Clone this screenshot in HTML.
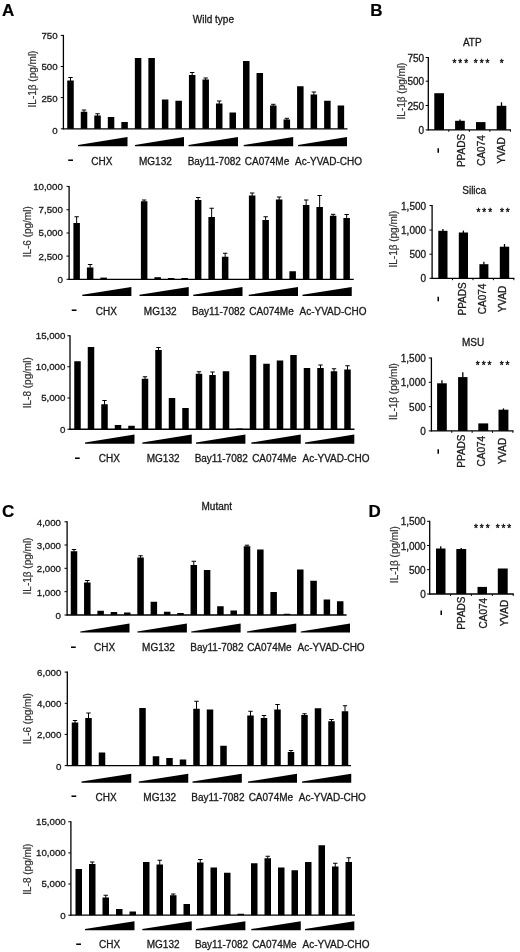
<!DOCTYPE html>
<html lang="en"><head><meta charset="utf-8"><title>Figure</title>
<style>html,body{margin:0;padding:0;background:#fff}svg{display:block;filter:blur(0.45px)}text{font-family:"Liberation Sans", Arial, Helvetica, sans-serif}</style>
</head><body>
<svg width="520" height="952" viewBox="0 0 520 952">
<rect width="520" height="952" fill="#fff"/>
<text x="1.90" y="15.60" font-size="17" text-anchor="start" font-weight="bold" fill="#000" stroke="#000" stroke-width="0.2">A</text>
<text x="370.30" y="15.70" font-size="17" text-anchor="start" font-weight="bold" fill="#000" stroke="#000" stroke-width="0.2">B</text>
<text x="2.00" y="517.00" font-size="17" text-anchor="start" font-weight="bold" fill="#000" stroke="#000" stroke-width="0.2">C</text>
<text x="368.40" y="517.00" font-size="17" text-anchor="start" font-weight="bold" fill="#000" stroke="#000" stroke-width="0.2">D</text>
<text x="213.40" y="23.00" font-size="10" text-anchor="middle" font-weight="normal" fill="#1a1a1a" stroke="#1a1a1a" stroke-width="0.3">Wild type</text>
<text x="216.80" y="509.50" font-size="10" text-anchor="middle" font-weight="normal" fill="#1a1a1a" stroke="#1a1a1a" stroke-width="0.3">Mutant</text>
<line x1="63.40" y1="34.90" x2="63.40" y2="129.30" stroke="#000" stroke-width="1.3"/>
<line x1="62.90" y1="128.80" x2="347.50" y2="128.80" stroke="#000" stroke-width="1.3"/>
<line x1="60.80" y1="35.40" x2="63.40" y2="35.40" stroke="#000" stroke-width="1.0"/>
<text x="57.60" y="38.87" font-size="9.7" text-anchor="end" font-weight="normal" fill="#1a1a1a" stroke="#1a1a1a" stroke-width="0.3">750</text>
<line x1="60.80" y1="66.50" x2="63.40" y2="66.50" stroke="#000" stroke-width="1.0"/>
<text x="57.60" y="70.42" font-size="9.7" text-anchor="end" font-weight="normal" fill="#1a1a1a" stroke="#1a1a1a" stroke-width="0.3">500</text>
<line x1="60.80" y1="97.60" x2="63.40" y2="97.60" stroke="#000" stroke-width="1.0"/>
<text x="57.60" y="101.97" font-size="9.7" text-anchor="end" font-weight="normal" fill="#1a1a1a" stroke="#1a1a1a" stroke-width="0.3">250</text>
<line x1="60.80" y1="128.80" x2="63.40" y2="128.80" stroke="#000" stroke-width="1.0"/>
<text x="57.60" y="133.62" font-size="9.7" text-anchor="end" font-weight="normal" fill="#1a1a1a" stroke="#1a1a1a" stroke-width="0.3">0</text>
<text x="35.90" y="79.00" font-size="10" text-anchor="middle" font-weight="normal" fill="#333" stroke="#333" stroke-width="0.2" transform="rotate(-90 35.90 79.00)">IL-1β (pg/ml)</text>
<rect x="67.25" y="80.50" width="6.50" height="48.30" fill="#000"/>
<line x1="70.50" y1="77.50" x2="70.50" y2="81.00" stroke="#000" stroke-width="1.0"/>
<line x1="68.30" y1="77.50" x2="72.70" y2="77.50" stroke="#000" stroke-width="1.0"/>
<rect x="80.77" y="111.75" width="6.50" height="17.05" fill="#000"/>
<line x1="84.02" y1="110.00" x2="84.02" y2="112.25" stroke="#000" stroke-width="1.0"/>
<line x1="81.82" y1="110.00" x2="86.22" y2="110.00" stroke="#000" stroke-width="1.0"/>
<rect x="94.29" y="115.50" width="6.50" height="13.30" fill="#000"/>
<line x1="97.54" y1="113.75" x2="97.54" y2="116.00" stroke="#000" stroke-width="1.0"/>
<line x1="95.34" y1="113.75" x2="99.74" y2="113.75" stroke="#000" stroke-width="1.0"/>
<rect x="107.81" y="117.00" width="6.50" height="11.80" fill="#000"/>
<rect x="121.33" y="122.00" width="6.50" height="6.80" fill="#000"/>
<rect x="134.85" y="58.00" width="6.50" height="70.80" fill="#000"/>
<rect x="148.37" y="58.00" width="6.50" height="70.80" fill="#000"/>
<rect x="161.89" y="99.50" width="6.50" height="29.30" fill="#000"/>
<rect x="175.41" y="100.75" width="6.50" height="28.05" fill="#000"/>
<rect x="188.93" y="75.00" width="6.50" height="53.80" fill="#000"/>
<line x1="192.18" y1="72.50" x2="192.18" y2="75.50" stroke="#000" stroke-width="1.0"/>
<line x1="189.98" y1="72.50" x2="194.38" y2="72.50" stroke="#000" stroke-width="1.0"/>
<rect x="202.45" y="79.50" width="6.50" height="49.30" fill="#000"/>
<line x1="205.70" y1="78.00" x2="205.70" y2="80.00" stroke="#000" stroke-width="1.0"/>
<line x1="203.50" y1="78.00" x2="207.90" y2="78.00" stroke="#000" stroke-width="1.0"/>
<rect x="215.97" y="103.50" width="6.50" height="25.30" fill="#000"/>
<line x1="219.22" y1="101.00" x2="219.22" y2="104.00" stroke="#000" stroke-width="1.0"/>
<line x1="217.02" y1="101.00" x2="221.42" y2="101.00" stroke="#000" stroke-width="1.0"/>
<rect x="229.49" y="112.50" width="6.50" height="16.30" fill="#000"/>
<rect x="243.01" y="61.00" width="6.50" height="67.80" fill="#000"/>
<rect x="256.53" y="73.00" width="6.50" height="55.80" fill="#000"/>
<rect x="270.05" y="105.50" width="6.50" height="23.30" fill="#000"/>
<line x1="273.30" y1="104.30" x2="273.30" y2="106.00" stroke="#000" stroke-width="1.0"/>
<line x1="271.10" y1="104.30" x2="275.50" y2="104.30" stroke="#000" stroke-width="1.0"/>
<rect x="283.57" y="119.50" width="6.50" height="9.30" fill="#000"/>
<line x1="286.82" y1="118.30" x2="286.82" y2="120.00" stroke="#000" stroke-width="1.0"/>
<line x1="284.62" y1="118.30" x2="289.02" y2="118.30" stroke="#000" stroke-width="1.0"/>
<rect x="297.09" y="86.25" width="6.50" height="42.55" fill="#000"/>
<rect x="310.61" y="94.50" width="6.50" height="34.30" fill="#000"/>
<line x1="313.86" y1="92.00" x2="313.86" y2="95.00" stroke="#000" stroke-width="1.0"/>
<line x1="311.66" y1="92.00" x2="316.06" y2="92.00" stroke="#000" stroke-width="1.0"/>
<rect x="324.13" y="100.75" width="6.50" height="28.05" fill="#000"/>
<rect x="337.65" y="105.50" width="6.50" height="23.30" fill="#000"/>
<polygon points="78.00,146.30 78.00,145.10 127.50,137.10 127.50,146.30" fill="#000"/>
<polygon points="135.00,146.30 135.00,145.10 184.00,137.10 184.00,146.30" fill="#000"/>
<polygon points="188.50,146.30 188.50,145.10 238.00,137.10 238.00,146.30" fill="#000"/>
<polygon points="243.70,146.30 243.70,145.10 293.20,137.10 293.20,146.30" fill="#000"/>
<polygon points="298.00,146.30 298.00,145.10 347.00,137.10 347.00,146.30" fill="#000"/>
<text transform="translate(70.75 164.40) scale(1.45 1)" font-size="13" font-weight="bold" text-anchor="middle" fill="#000">-</text>
<text x="101.75" y="164.60" font-size="10" text-anchor="middle" font-weight="normal" fill="#1a1a1a" stroke="#1a1a1a" stroke-width="0.3">CHX</text>
<text x="155.40" y="164.60" font-size="10" text-anchor="middle" font-weight="normal" fill="#1a1a1a" stroke="#1a1a1a" stroke-width="0.3">MG132</text>
<text x="214.25" y="164.60" font-size="10" text-anchor="middle" font-weight="normal" fill="#1a1a1a" stroke="#1a1a1a" stroke-width="0.3">Bay11-7082</text>
<text x="267.00" y="164.60" font-size="10" text-anchor="middle" font-weight="normal" fill="#1a1a1a" stroke="#1a1a1a" stroke-width="0.3">CA074Me</text>
<text x="328.50" y="164.60" font-size="10" text-anchor="middle" font-weight="normal" fill="#1a1a1a" stroke="#1a1a1a" stroke-width="0.3">Ac-YVAD-CHO</text>
<line x1="69.10" y1="185.90" x2="69.10" y2="279.80" stroke="#000" stroke-width="1.3"/>
<line x1="68.60" y1="279.30" x2="353.75" y2="279.30" stroke="#000" stroke-width="1.3"/>
<line x1="66.50" y1="186.40" x2="69.10" y2="186.40" stroke="#000" stroke-width="1.0"/>
<text x="62.80" y="189.87" font-size="9.7" text-anchor="end" font-weight="normal" fill="#1a1a1a" stroke="#1a1a1a" stroke-width="0.3">10,000</text>
<line x1="66.50" y1="209.75" x2="69.10" y2="209.75" stroke="#000" stroke-width="1.0"/>
<text x="62.80" y="213.22" font-size="9.7" text-anchor="end" font-weight="normal" fill="#1a1a1a" stroke="#1a1a1a" stroke-width="0.3">7,500</text>
<line x1="66.50" y1="233.00" x2="69.10" y2="233.00" stroke="#000" stroke-width="1.0"/>
<text x="62.80" y="236.47" font-size="9.7" text-anchor="end" font-weight="normal" fill="#1a1a1a" stroke="#1a1a1a" stroke-width="0.3">5,000</text>
<line x1="66.50" y1="256.10" x2="69.10" y2="256.10" stroke="#000" stroke-width="1.0"/>
<text x="62.80" y="259.57" font-size="9.7" text-anchor="end" font-weight="normal" fill="#1a1a1a" stroke="#1a1a1a" stroke-width="0.3">2,500</text>
<line x1="66.50" y1="279.30" x2="69.10" y2="279.30" stroke="#000" stroke-width="1.0"/>
<text x="62.80" y="282.77" font-size="9.7" text-anchor="end" font-weight="normal" fill="#1a1a1a" stroke="#1a1a1a" stroke-width="0.3">0</text>
<text x="31.10" y="231.80" font-size="10" text-anchor="middle" font-weight="normal" fill="#333" stroke="#333" stroke-width="0.2" transform="rotate(-90 31.10 231.80)">IL-6 (pg/ml)</text>
<rect x="73.40" y="223.00" width="6.50" height="56.30" fill="#000"/>
<line x1="76.65" y1="216.75" x2="76.65" y2="223.50" stroke="#000" stroke-width="1.0"/>
<line x1="74.45" y1="216.75" x2="78.85" y2="216.75" stroke="#000" stroke-width="1.0"/>
<rect x="86.90" y="267.50" width="6.50" height="11.80" fill="#000"/>
<line x1="90.15" y1="264.50" x2="90.15" y2="268.00" stroke="#000" stroke-width="1.0"/>
<line x1="87.95" y1="264.50" x2="92.35" y2="264.50" stroke="#000" stroke-width="1.0"/>
<rect x="100.40" y="277.60" width="6.50" height="1.70" fill="#000"/>
<rect x="140.90" y="201.25" width="6.50" height="78.05" fill="#000"/>
<line x1="144.15" y1="200.00" x2="144.15" y2="201.75" stroke="#000" stroke-width="1.0"/>
<line x1="141.95" y1="200.00" x2="146.35" y2="200.00" stroke="#000" stroke-width="1.0"/>
<rect x="154.40" y="277.20" width="6.50" height="2.10" fill="#000"/>
<rect x="167.90" y="278.00" width="6.50" height="1.30" fill="#000"/>
<rect x="181.40" y="278.00" width="6.50" height="1.30" fill="#000"/>
<rect x="194.90" y="200.00" width="6.50" height="79.30" fill="#000"/>
<line x1="198.15" y1="197.50" x2="198.15" y2="200.50" stroke="#000" stroke-width="1.0"/>
<line x1="195.95" y1="197.50" x2="200.35" y2="197.50" stroke="#000" stroke-width="1.0"/>
<rect x="208.40" y="217.00" width="6.50" height="62.30" fill="#000"/>
<line x1="211.65" y1="208.25" x2="211.65" y2="217.50" stroke="#000" stroke-width="1.0"/>
<line x1="209.45" y1="208.25" x2="213.85" y2="208.25" stroke="#000" stroke-width="1.0"/>
<rect x="221.90" y="256.75" width="6.50" height="22.55" fill="#000"/>
<line x1="225.15" y1="253.25" x2="225.15" y2="257.25" stroke="#000" stroke-width="1.0"/>
<line x1="222.95" y1="253.25" x2="227.35" y2="253.25" stroke="#000" stroke-width="1.0"/>
<rect x="248.90" y="195.50" width="6.50" height="83.80" fill="#000"/>
<line x1="252.15" y1="193.00" x2="252.15" y2="196.00" stroke="#000" stroke-width="1.0"/>
<line x1="249.95" y1="193.00" x2="254.35" y2="193.00" stroke="#000" stroke-width="1.0"/>
<rect x="262.40" y="220.00" width="6.50" height="59.30" fill="#000"/>
<line x1="265.65" y1="216.75" x2="265.65" y2="220.50" stroke="#000" stroke-width="1.0"/>
<line x1="263.45" y1="216.75" x2="267.85" y2="216.75" stroke="#000" stroke-width="1.0"/>
<rect x="275.90" y="199.50" width="6.50" height="79.80" fill="#000"/>
<line x1="279.15" y1="197.00" x2="279.15" y2="200.00" stroke="#000" stroke-width="1.0"/>
<line x1="276.95" y1="197.00" x2="281.35" y2="197.00" stroke="#000" stroke-width="1.0"/>
<rect x="289.40" y="271.25" width="6.50" height="8.05" fill="#000"/>
<rect x="302.90" y="205.00" width="6.50" height="74.30" fill="#000"/>
<line x1="306.15" y1="200.00" x2="306.15" y2="205.50" stroke="#000" stroke-width="1.0"/>
<line x1="303.95" y1="200.00" x2="308.35" y2="200.00" stroke="#000" stroke-width="1.0"/>
<rect x="316.40" y="207.00" width="6.50" height="72.30" fill="#000"/>
<line x1="319.65" y1="195.50" x2="319.65" y2="207.50" stroke="#000" stroke-width="1.0"/>
<line x1="317.45" y1="195.50" x2="321.85" y2="195.50" stroke="#000" stroke-width="1.0"/>
<rect x="329.90" y="215.75" width="6.50" height="63.55" fill="#000"/>
<line x1="333.15" y1="214.30" x2="333.15" y2="216.25" stroke="#000" stroke-width="1.0"/>
<line x1="330.95" y1="214.30" x2="335.35" y2="214.30" stroke="#000" stroke-width="1.0"/>
<rect x="343.40" y="218.00" width="6.50" height="61.30" fill="#000"/>
<line x1="346.65" y1="214.50" x2="346.65" y2="218.50" stroke="#000" stroke-width="1.0"/>
<line x1="344.45" y1="214.50" x2="348.85" y2="214.50" stroke="#000" stroke-width="1.0"/>
<polygon points="82.30,296.05 82.30,294.85 131.40,287.00 131.40,296.05" fill="#000"/>
<polygon points="139.50,296.05 139.50,294.85 188.75,287.00 188.75,296.05" fill="#000"/>
<polygon points="193.25,296.05 193.25,294.85 242.50,287.00 242.50,296.05" fill="#000"/>
<polygon points="248.75,296.05 248.75,294.85 298.00,287.00 298.00,296.05" fill="#000"/>
<polygon points="302.50,296.05 302.50,294.85 351.75,287.00 351.75,296.05" fill="#000"/>
<text transform="translate(74.25 313.90) scale(1.45 1)" font-size="13" font-weight="bold" text-anchor="middle" fill="#000">-</text>
<text x="106.25" y="314.55" font-size="10" text-anchor="middle" font-weight="normal" fill="#1a1a1a" stroke="#1a1a1a" stroke-width="0.3">CHX</text>
<text x="160.25" y="314.55" font-size="10" text-anchor="middle" font-weight="normal" fill="#1a1a1a" stroke="#1a1a1a" stroke-width="0.3">MG132</text>
<text x="218.50" y="314.55" font-size="10" text-anchor="middle" font-weight="normal" fill="#1a1a1a" stroke="#1a1a1a" stroke-width="0.3">Bay11-7082</text>
<text x="271.50" y="314.55" font-size="10" text-anchor="middle" font-weight="normal" fill="#1a1a1a" stroke="#1a1a1a" stroke-width="0.3">CA074Me</text>
<text x="333.00" y="314.55" font-size="10" text-anchor="middle" font-weight="normal" fill="#1a1a1a" stroke="#1a1a1a" stroke-width="0.3">Ac-YVAD-CHO</text>
<line x1="70.00" y1="335.25" x2="70.00" y2="429.75" stroke="#000" stroke-width="1.3"/>
<line x1="69.50" y1="429.25" x2="354.50" y2="429.25" stroke="#000" stroke-width="1.3"/>
<line x1="67.40" y1="335.75" x2="70.00" y2="335.75" stroke="#000" stroke-width="1.0"/>
<text x="65.40" y="339.22" font-size="9.7" text-anchor="end" font-weight="normal" fill="#1a1a1a" stroke="#1a1a1a" stroke-width="0.3">15,000</text>
<line x1="67.40" y1="366.75" x2="70.00" y2="366.75" stroke="#000" stroke-width="1.0"/>
<text x="65.40" y="370.22" font-size="9.7" text-anchor="end" font-weight="normal" fill="#1a1a1a" stroke="#1a1a1a" stroke-width="0.3">10,000</text>
<line x1="67.40" y1="398.00" x2="70.00" y2="398.00" stroke="#000" stroke-width="1.0"/>
<text x="65.40" y="401.47" font-size="9.7" text-anchor="end" font-weight="normal" fill="#1a1a1a" stroke="#1a1a1a" stroke-width="0.3">5,000</text>
<line x1="67.40" y1="429.25" x2="70.00" y2="429.25" stroke="#000" stroke-width="1.0"/>
<text x="65.40" y="432.72" font-size="9.7" text-anchor="end" font-weight="normal" fill="#1a1a1a" stroke="#1a1a1a" stroke-width="0.3">0</text>
<text x="31.10" y="382.70" font-size="10" text-anchor="middle" font-weight="normal" fill="#333" stroke="#333" stroke-width="0.2" transform="rotate(-90 31.10 382.70)">IL-8 (pg/ml)</text>
<rect x="74.25" y="361.25" width="6.50" height="68.00" fill="#000"/>
<rect x="87.75" y="347.00" width="6.50" height="82.25" fill="#000"/>
<rect x="101.25" y="404.25" width="6.50" height="25.00" fill="#000"/>
<line x1="104.50" y1="400.50" x2="104.50" y2="404.75" stroke="#000" stroke-width="1.0"/>
<line x1="102.30" y1="400.50" x2="106.70" y2="400.50" stroke="#000" stroke-width="1.0"/>
<rect x="114.75" y="425.00" width="6.50" height="4.25" fill="#000"/>
<rect x="128.25" y="425.75" width="6.50" height="3.50" fill="#000"/>
<rect x="141.75" y="378.75" width="6.50" height="50.50" fill="#000"/>
<line x1="145.00" y1="376.75" x2="145.00" y2="379.25" stroke="#000" stroke-width="1.0"/>
<line x1="142.80" y1="376.75" x2="147.20" y2="376.75" stroke="#000" stroke-width="1.0"/>
<rect x="155.25" y="350.00" width="6.50" height="79.25" fill="#000"/>
<line x1="158.50" y1="347.50" x2="158.50" y2="350.50" stroke="#000" stroke-width="1.0"/>
<line x1="156.30" y1="347.50" x2="160.70" y2="347.50" stroke="#000" stroke-width="1.0"/>
<rect x="168.75" y="398.00" width="6.50" height="31.25" fill="#000"/>
<rect x="182.25" y="408.00" width="6.50" height="21.25" fill="#000"/>
<rect x="195.75" y="373.75" width="6.50" height="55.50" fill="#000"/>
<line x1="199.00" y1="371.75" x2="199.00" y2="374.25" stroke="#000" stroke-width="1.0"/>
<line x1="196.80" y1="371.75" x2="201.20" y2="371.75" stroke="#000" stroke-width="1.0"/>
<rect x="209.25" y="375.00" width="6.50" height="54.25" fill="#000"/>
<line x1="212.50" y1="372.00" x2="212.50" y2="375.50" stroke="#000" stroke-width="1.0"/>
<line x1="210.30" y1="372.00" x2="214.70" y2="372.00" stroke="#000" stroke-width="1.0"/>
<rect x="222.75" y="371.25" width="6.50" height="58.00" fill="#000"/>
<rect x="236.25" y="428.50" width="6.50" height="0.75" fill="#000"/>
<rect x="249.75" y="355.00" width="6.50" height="74.25" fill="#000"/>
<rect x="263.25" y="363.75" width="6.50" height="65.50" fill="#000"/>
<rect x="276.75" y="360.50" width="6.50" height="68.75" fill="#000"/>
<rect x="290.25" y="355.00" width="6.50" height="74.25" fill="#000"/>
<rect x="303.75" y="368.00" width="6.50" height="61.25" fill="#000"/>
<rect x="317.25" y="368.00" width="6.50" height="61.25" fill="#000"/>
<line x1="320.50" y1="365.00" x2="320.50" y2="368.50" stroke="#000" stroke-width="1.0"/>
<line x1="318.30" y1="365.00" x2="322.70" y2="365.00" stroke="#000" stroke-width="1.0"/>
<rect x="330.75" y="371.25" width="6.50" height="58.00" fill="#000"/>
<line x1="334.00" y1="368.75" x2="334.00" y2="371.75" stroke="#000" stroke-width="1.0"/>
<line x1="331.80" y1="368.75" x2="336.20" y2="368.75" stroke="#000" stroke-width="1.0"/>
<rect x="344.25" y="369.50" width="6.50" height="59.75" fill="#000"/>
<line x1="347.50" y1="365.75" x2="347.50" y2="370.00" stroke="#000" stroke-width="1.0"/>
<line x1="345.30" y1="365.75" x2="349.70" y2="365.75" stroke="#000" stroke-width="1.0"/>
<polygon points="85.00,443.70 85.00,442.50 134.50,434.40 134.50,443.70" fill="#000"/>
<polygon points="142.30,443.70 142.30,442.50 191.75,434.40 191.75,443.70" fill="#000"/>
<polygon points="196.00,443.70 196.00,442.50 245.40,434.40 245.40,443.70" fill="#000"/>
<polygon points="251.25,443.70 251.25,442.50 300.75,434.40 300.75,443.70" fill="#000"/>
<polygon points="305.00,443.70 305.00,442.50 354.30,434.40 354.30,443.70" fill="#000"/>
<text transform="translate(77.50 461.65) scale(1.45 1)" font-size="13" font-weight="bold" text-anchor="middle" fill="#000">-</text>
<text x="109.38" y="461.75" font-size="10" text-anchor="middle" font-weight="normal" fill="#1a1a1a" stroke="#1a1a1a" stroke-width="0.3">CHX</text>
<text x="163.12" y="461.75" font-size="10" text-anchor="middle" font-weight="normal" fill="#1a1a1a" stroke="#1a1a1a" stroke-width="0.3">MG132</text>
<text x="221.25" y="461.75" font-size="10" text-anchor="middle" font-weight="normal" fill="#1a1a1a" stroke="#1a1a1a" stroke-width="0.3">Bay11-7082</text>
<text x="274.38" y="461.75" font-size="10" text-anchor="middle" font-weight="normal" fill="#1a1a1a" stroke="#1a1a1a" stroke-width="0.3">CA074Me</text>
<text x="336.00" y="461.75" font-size="10" text-anchor="middle" font-weight="normal" fill="#1a1a1a" stroke="#1a1a1a" stroke-width="0.3">Ac-YVAD-CHO</text>
<line x1="67.10" y1="521.30" x2="67.10" y2="615.50" stroke="#000" stroke-width="1.3"/>
<line x1="66.60" y1="615.00" x2="346.60" y2="615.00" stroke="#000" stroke-width="1.3"/>
<line x1="64.50" y1="521.80" x2="67.10" y2="521.80" stroke="#000" stroke-width="1.0"/>
<text x="61.00" y="525.87" font-size="9.7" text-anchor="end" font-weight="normal" fill="#1a1a1a" stroke="#1a1a1a" stroke-width="0.3">4,000</text>
<line x1="64.50" y1="545.00" x2="67.10" y2="545.00" stroke="#000" stroke-width="1.0"/>
<text x="61.00" y="549.07" font-size="9.7" text-anchor="end" font-weight="normal" fill="#1a1a1a" stroke="#1a1a1a" stroke-width="0.3">3,000</text>
<line x1="64.50" y1="568.30" x2="67.10" y2="568.30" stroke="#000" stroke-width="1.0"/>
<text x="61.00" y="572.37" font-size="9.7" text-anchor="end" font-weight="normal" fill="#1a1a1a" stroke="#1a1a1a" stroke-width="0.3">2,000</text>
<line x1="64.50" y1="591.70" x2="67.10" y2="591.70" stroke="#000" stroke-width="1.0"/>
<text x="61.00" y="595.77" font-size="9.7" text-anchor="end" font-weight="normal" fill="#1a1a1a" stroke="#1a1a1a" stroke-width="0.3">1,000</text>
<line x1="64.50" y1="615.00" x2="67.10" y2="615.00" stroke="#000" stroke-width="1.0"/>
<text x="61.00" y="619.07" font-size="9.7" text-anchor="end" font-weight="normal" fill="#1a1a1a" stroke="#1a1a1a" stroke-width="0.3">0</text>
<text x="31.10" y="566.00" font-size="10" text-anchor="middle" font-weight="normal" fill="#333" stroke="#333" stroke-width="0.2" transform="rotate(-90 31.10 566.00)">IL-1β (pg/ml)</text>
<rect x="70.75" y="551.25" width="6.50" height="63.75" fill="#000"/>
<line x1="74.00" y1="549.50" x2="74.00" y2="551.75" stroke="#000" stroke-width="1.0"/>
<line x1="71.80" y1="549.50" x2="76.20" y2="549.50" stroke="#000" stroke-width="1.0"/>
<rect x="84.06" y="582.50" width="6.50" height="32.50" fill="#000"/>
<line x1="87.31" y1="580.50" x2="87.31" y2="583.00" stroke="#000" stroke-width="1.0"/>
<line x1="85.11" y1="580.50" x2="89.51" y2="580.50" stroke="#000" stroke-width="1.0"/>
<rect x="97.37" y="610.75" width="6.50" height="4.25" fill="#000"/>
<rect x="110.68" y="612.00" width="6.50" height="3.00" fill="#000"/>
<rect x="123.99" y="612.50" width="6.50" height="2.50" fill="#000"/>
<rect x="137.30" y="557.50" width="6.50" height="57.50" fill="#000"/>
<line x1="140.55" y1="555.75" x2="140.55" y2="558.00" stroke="#000" stroke-width="1.0"/>
<line x1="138.35" y1="555.75" x2="142.75" y2="555.75" stroke="#000" stroke-width="1.0"/>
<rect x="150.61" y="601.75" width="6.50" height="13.25" fill="#000"/>
<rect x="163.92" y="611.75" width="6.50" height="3.25" fill="#000"/>
<rect x="177.23" y="613.00" width="6.50" height="2.00" fill="#000"/>
<rect x="190.54" y="565.00" width="6.50" height="50.00" fill="#000"/>
<line x1="193.79" y1="561.25" x2="193.79" y2="565.50" stroke="#000" stroke-width="1.0"/>
<line x1="191.59" y1="561.25" x2="195.99" y2="561.25" stroke="#000" stroke-width="1.0"/>
<rect x="203.85" y="570.00" width="6.50" height="45.00" fill="#000"/>
<rect x="217.16" y="606.25" width="6.50" height="8.75" fill="#000"/>
<rect x="230.47" y="610.50" width="6.50" height="4.50" fill="#000"/>
<rect x="243.78" y="546.25" width="6.50" height="68.75" fill="#000"/>
<line x1="247.03" y1="545.20" x2="247.03" y2="546.75" stroke="#000" stroke-width="1.0"/>
<line x1="244.83" y1="545.20" x2="249.23" y2="545.20" stroke="#000" stroke-width="1.0"/>
<rect x="257.09" y="549.50" width="6.50" height="65.50" fill="#000"/>
<rect x="270.40" y="592.00" width="6.50" height="23.00" fill="#000"/>
<rect x="283.71" y="613.75" width="6.50" height="1.25" fill="#000"/>
<rect x="297.02" y="569.50" width="6.50" height="45.50" fill="#000"/>
<rect x="310.33" y="580.75" width="6.50" height="34.25" fill="#000"/>
<rect x="323.64" y="599.50" width="6.50" height="15.50" fill="#000"/>
<rect x="336.95" y="601.25" width="6.50" height="13.75" fill="#000"/>
<polygon points="80.30,632.60 80.30,631.40 129.50,623.40 129.50,632.60" fill="#000"/>
<polygon points="137.30,632.60 137.30,631.40 186.90,623.40 186.90,632.60" fill="#000"/>
<polygon points="191.25,632.60 191.25,631.40 240.60,623.40 240.60,632.60" fill="#000"/>
<polygon points="247.00,632.60 247.00,631.40 296.25,623.40 296.25,632.60" fill="#000"/>
<polygon points="300.75,632.60 300.75,631.40 350.00,623.40 350.00,632.60" fill="#000"/>
<text transform="translate(73.50 650.65) scale(1.45 1)" font-size="13" font-weight="bold" text-anchor="middle" fill="#000">-</text>
<text x="104.62" y="650.60" font-size="10" text-anchor="middle" font-weight="normal" fill="#1a1a1a" stroke="#1a1a1a" stroke-width="0.3">CHX</text>
<text x="158.50" y="650.60" font-size="10" text-anchor="middle" font-weight="normal" fill="#1a1a1a" stroke="#1a1a1a" stroke-width="0.3">MG132</text>
<text x="216.88" y="650.60" font-size="10" text-anchor="middle" font-weight="normal" fill="#1a1a1a" stroke="#1a1a1a" stroke-width="0.3">Bay11-7082</text>
<text x="269.38" y="650.60" font-size="10" text-anchor="middle" font-weight="normal" fill="#1a1a1a" stroke="#1a1a1a" stroke-width="0.3">CA074Me</text>
<text x="331.12" y="650.60" font-size="10" text-anchor="middle" font-weight="normal" fill="#1a1a1a" stroke="#1a1a1a" stroke-width="0.3">Ac-YVAD-CHO</text>
<line x1="67.30" y1="671.60" x2="67.30" y2="766.10" stroke="#000" stroke-width="1.3"/>
<line x1="66.80" y1="765.60" x2="351.00" y2="765.60" stroke="#000" stroke-width="1.3"/>
<line x1="64.70" y1="672.10" x2="67.30" y2="672.10" stroke="#000" stroke-width="1.0"/>
<text x="61.30" y="676.07" font-size="9.7" text-anchor="end" font-weight="normal" fill="#1a1a1a" stroke="#1a1a1a" stroke-width="0.3">6,000</text>
<line x1="64.70" y1="703.30" x2="67.30" y2="703.30" stroke="#000" stroke-width="1.0"/>
<text x="61.30" y="707.27" font-size="9.7" text-anchor="end" font-weight="normal" fill="#1a1a1a" stroke="#1a1a1a" stroke-width="0.3">4,000</text>
<line x1="64.70" y1="734.40" x2="67.30" y2="734.40" stroke="#000" stroke-width="1.0"/>
<text x="61.30" y="738.37" font-size="9.7" text-anchor="end" font-weight="normal" fill="#1a1a1a" stroke="#1a1a1a" stroke-width="0.3">2,000</text>
<line x1="64.70" y1="765.60" x2="67.30" y2="765.60" stroke="#000" stroke-width="1.0"/>
<text x="61.30" y="769.57" font-size="9.7" text-anchor="end" font-weight="normal" fill="#1a1a1a" stroke="#1a1a1a" stroke-width="0.3">0</text>
<text x="31.10" y="718.60" font-size="10" text-anchor="middle" font-weight="normal" fill="#333" stroke="#333" stroke-width="0.2" transform="rotate(-90 31.10 718.60)">IL-6 (pg/ml)</text>
<rect x="71.75" y="722.50" width="6.50" height="43.10" fill="#000"/>
<line x1="75.00" y1="720.50" x2="75.00" y2="723.00" stroke="#000" stroke-width="1.0"/>
<line x1="72.80" y1="720.50" x2="77.20" y2="720.50" stroke="#000" stroke-width="1.0"/>
<rect x="85.25" y="718.00" width="6.50" height="47.60" fill="#000"/>
<line x1="88.50" y1="713.00" x2="88.50" y2="718.50" stroke="#000" stroke-width="1.0"/>
<line x1="86.30" y1="713.00" x2="90.70" y2="713.00" stroke="#000" stroke-width="1.0"/>
<rect x="98.75" y="752.50" width="6.50" height="13.10" fill="#000"/>
<rect x="139.25" y="708.00" width="6.50" height="57.60" fill="#000"/>
<rect x="152.75" y="756.25" width="6.50" height="9.35" fill="#000"/>
<rect x="166.25" y="758.00" width="6.50" height="7.60" fill="#000"/>
<rect x="179.75" y="759.50" width="6.50" height="6.10" fill="#000"/>
<rect x="193.25" y="708.75" width="6.50" height="56.85" fill="#000"/>
<line x1="196.50" y1="701.25" x2="196.50" y2="709.25" stroke="#000" stroke-width="1.0"/>
<line x1="194.30" y1="701.25" x2="198.70" y2="701.25" stroke="#000" stroke-width="1.0"/>
<rect x="206.75" y="709.50" width="6.50" height="56.10" fill="#000"/>
<rect x="220.25" y="745.75" width="6.50" height="19.85" fill="#000"/>
<rect x="247.25" y="715.50" width="6.50" height="50.10" fill="#000"/>
<line x1="250.50" y1="711.25" x2="250.50" y2="716.00" stroke="#000" stroke-width="1.0"/>
<line x1="248.30" y1="711.25" x2="252.70" y2="711.25" stroke="#000" stroke-width="1.0"/>
<rect x="260.75" y="718.00" width="6.50" height="47.60" fill="#000"/>
<line x1="264.00" y1="715.50" x2="264.00" y2="718.50" stroke="#000" stroke-width="1.0"/>
<line x1="261.80" y1="715.50" x2="266.20" y2="715.50" stroke="#000" stroke-width="1.0"/>
<rect x="274.25" y="709.50" width="6.50" height="56.10" fill="#000"/>
<line x1="277.50" y1="704.50" x2="277.50" y2="710.00" stroke="#000" stroke-width="1.0"/>
<line x1="275.30" y1="704.50" x2="279.70" y2="704.50" stroke="#000" stroke-width="1.0"/>
<rect x="287.75" y="752.00" width="6.50" height="13.60" fill="#000"/>
<line x1="291.00" y1="750.50" x2="291.00" y2="752.50" stroke="#000" stroke-width="1.0"/>
<line x1="288.80" y1="750.50" x2="293.20" y2="750.50" stroke="#000" stroke-width="1.0"/>
<rect x="301.25" y="715.00" width="6.50" height="50.60" fill="#000"/>
<line x1="304.50" y1="713.75" x2="304.50" y2="715.50" stroke="#000" stroke-width="1.0"/>
<line x1="302.30" y1="713.75" x2="306.70" y2="713.75" stroke="#000" stroke-width="1.0"/>
<rect x="314.75" y="708.25" width="6.50" height="57.35" fill="#000"/>
<rect x="328.25" y="721.25" width="6.50" height="44.35" fill="#000"/>
<line x1="331.50" y1="719.50" x2="331.50" y2="721.75" stroke="#000" stroke-width="1.0"/>
<line x1="329.30" y1="719.50" x2="333.70" y2="719.50" stroke="#000" stroke-width="1.0"/>
<rect x="341.75" y="711.25" width="6.50" height="54.35" fill="#000"/>
<line x1="345.00" y1="705.75" x2="345.00" y2="711.75" stroke="#000" stroke-width="1.0"/>
<line x1="342.80" y1="705.75" x2="347.20" y2="705.75" stroke="#000" stroke-width="1.0"/>
<polygon points="81.50,782.80 81.50,781.60 131.25,773.75 131.25,782.80" fill="#000"/>
<polygon points="138.75,782.80 138.75,781.60 188.25,773.75 188.25,782.80" fill="#000"/>
<polygon points="192.50,782.80 192.50,781.60 241.80,773.75 241.80,782.80" fill="#000"/>
<polygon points="248.00,782.80 248.00,781.60 297.00,773.75 297.00,782.80" fill="#000"/>
<polygon points="302.00,782.80 302.00,781.60 351.25,773.75 351.25,782.80" fill="#000"/>
<text transform="translate(74.00 800.15) scale(1.45 1)" font-size="13" font-weight="bold" text-anchor="middle" fill="#000">-</text>
<text x="106.00" y="800.50" font-size="10" text-anchor="middle" font-weight="normal" fill="#1a1a1a" stroke="#1a1a1a" stroke-width="0.3">CHX</text>
<text x="159.75" y="800.50" font-size="10" text-anchor="middle" font-weight="normal" fill="#1a1a1a" stroke="#1a1a1a" stroke-width="0.3">MG132</text>
<text x="217.88" y="800.50" font-size="10" text-anchor="middle" font-weight="normal" fill="#1a1a1a" stroke="#1a1a1a" stroke-width="0.3">Bay11-7082</text>
<text x="270.88" y="800.50" font-size="10" text-anchor="middle" font-weight="normal" fill="#1a1a1a" stroke="#1a1a1a" stroke-width="0.3">CA074Me</text>
<text x="332.25" y="800.50" font-size="10" text-anchor="middle" font-weight="normal" fill="#1a1a1a" stroke="#1a1a1a" stroke-width="0.3">Ac-YVAD-CHO</text>
<line x1="70.90" y1="821.30" x2="70.90" y2="915.70" stroke="#000" stroke-width="1.3"/>
<line x1="70.40" y1="915.20" x2="355.00" y2="915.20" stroke="#000" stroke-width="1.3"/>
<line x1="68.30" y1="821.80" x2="70.90" y2="821.80" stroke="#000" stroke-width="1.0"/>
<text x="65.70" y="825.27" font-size="9.7" text-anchor="end" font-weight="normal" fill="#1a1a1a" stroke="#1a1a1a" stroke-width="0.3">15,000</text>
<line x1="68.30" y1="852.90" x2="70.90" y2="852.90" stroke="#000" stroke-width="1.0"/>
<text x="65.70" y="856.37" font-size="9.7" text-anchor="end" font-weight="normal" fill="#1a1a1a" stroke="#1a1a1a" stroke-width="0.3">10,000</text>
<line x1="68.30" y1="884.00" x2="70.90" y2="884.00" stroke="#000" stroke-width="1.0"/>
<text x="65.70" y="887.47" font-size="9.7" text-anchor="end" font-weight="normal" fill="#1a1a1a" stroke="#1a1a1a" stroke-width="0.3">5,000</text>
<line x1="68.30" y1="915.20" x2="70.90" y2="915.20" stroke="#000" stroke-width="1.0"/>
<text x="65.70" y="918.67" font-size="9.7" text-anchor="end" font-weight="normal" fill="#1a1a1a" stroke="#1a1a1a" stroke-width="0.3">0</text>
<text x="31.10" y="869.20" font-size="10" text-anchor="middle" font-weight="normal" fill="#333" stroke="#333" stroke-width="0.2" transform="rotate(-90 31.10 869.20)">IL-8 (pg/ml)</text>
<rect x="75.50" y="869.00" width="6.50" height="46.20" fill="#000"/>
<rect x="89.00" y="864.00" width="6.50" height="51.20" fill="#000"/>
<line x1="92.25" y1="862.00" x2="92.25" y2="864.50" stroke="#000" stroke-width="1.0"/>
<line x1="90.05" y1="862.00" x2="94.45" y2="862.00" stroke="#000" stroke-width="1.0"/>
<rect x="102.50" y="897.50" width="6.50" height="17.70" fill="#000"/>
<line x1="105.75" y1="895.25" x2="105.75" y2="898.00" stroke="#000" stroke-width="1.0"/>
<line x1="103.55" y1="895.25" x2="107.95" y2="895.25" stroke="#000" stroke-width="1.0"/>
<rect x="116.00" y="909.00" width="6.50" height="6.20" fill="#000"/>
<rect x="129.50" y="911.50" width="6.50" height="3.70" fill="#000"/>
<rect x="143.00" y="862.00" width="6.50" height="53.20" fill="#000"/>
<rect x="156.50" y="864.50" width="6.50" height="50.70" fill="#000"/>
<line x1="159.75" y1="860.25" x2="159.75" y2="865.00" stroke="#000" stroke-width="1.0"/>
<line x1="157.55" y1="860.25" x2="161.95" y2="860.25" stroke="#000" stroke-width="1.0"/>
<rect x="170.00" y="895.25" width="6.50" height="19.95" fill="#000"/>
<line x1="173.25" y1="894.00" x2="173.25" y2="895.75" stroke="#000" stroke-width="1.0"/>
<line x1="171.05" y1="894.00" x2="175.45" y2="894.00" stroke="#000" stroke-width="1.0"/>
<rect x="183.50" y="904.00" width="6.50" height="11.20" fill="#000"/>
<rect x="197.00" y="862.50" width="6.50" height="52.70" fill="#000"/>
<line x1="200.25" y1="859.50" x2="200.25" y2="863.00" stroke="#000" stroke-width="1.0"/>
<line x1="198.05" y1="859.50" x2="202.45" y2="859.50" stroke="#000" stroke-width="1.0"/>
<rect x="210.50" y="867.50" width="6.50" height="47.70" fill="#000"/>
<rect x="224.00" y="872.75" width="6.50" height="42.45" fill="#000"/>
<rect x="237.50" y="913.75" width="6.50" height="1.45" fill="#000"/>
<rect x="251.00" y="863.25" width="6.50" height="51.95" fill="#000"/>
<rect x="264.50" y="858.25" width="6.50" height="56.95" fill="#000"/>
<line x1="267.75" y1="856.25" x2="267.75" y2="858.75" stroke="#000" stroke-width="1.0"/>
<line x1="265.55" y1="856.25" x2="269.95" y2="856.25" stroke="#000" stroke-width="1.0"/>
<rect x="278.00" y="867.50" width="6.50" height="47.70" fill="#000"/>
<rect x="291.50" y="870.25" width="6.50" height="44.95" fill="#000"/>
<rect x="305.00" y="862.00" width="6.50" height="53.20" fill="#000"/>
<rect x="318.50" y="845.25" width="6.50" height="69.95" fill="#000"/>
<rect x="332.00" y="866.50" width="6.50" height="48.70" fill="#000"/>
<line x1="335.25" y1="863.25" x2="335.25" y2="867.00" stroke="#000" stroke-width="1.0"/>
<line x1="333.05" y1="863.25" x2="337.45" y2="863.25" stroke="#000" stroke-width="1.0"/>
<rect x="345.50" y="862.00" width="6.50" height="53.20" fill="#000"/>
<line x1="348.75" y1="857.75" x2="348.75" y2="862.50" stroke="#000" stroke-width="1.0"/>
<line x1="346.55" y1="857.75" x2="350.95" y2="857.75" stroke="#000" stroke-width="1.0"/>
<polygon points="85.00,930.30 85.00,929.10 134.50,921.30 134.50,930.30" fill="#000"/>
<polygon points="142.30,930.30 142.30,929.10 191.75,921.30 191.75,930.30" fill="#000"/>
<polygon points="196.00,930.30 196.00,929.10 245.40,921.30 245.40,930.30" fill="#000"/>
<polygon points="251.25,930.30 251.25,929.10 300.75,921.30 300.75,930.30" fill="#000"/>
<polygon points="305.00,930.30 305.00,929.10 354.30,921.30 354.30,930.30" fill="#000"/>
<text transform="translate(78.75 947.65) scale(1.45 1)" font-size="13" font-weight="bold" text-anchor="middle" fill="#000">-</text>
<text x="109.62" y="948.30" font-size="10" text-anchor="middle" font-weight="normal" fill="#1a1a1a" stroke="#1a1a1a" stroke-width="0.3">CHX</text>
<text x="163.12" y="948.30" font-size="10" text-anchor="middle" font-weight="normal" fill="#1a1a1a" stroke="#1a1a1a" stroke-width="0.3">MG132</text>
<text x="221.50" y="948.30" font-size="10" text-anchor="middle" font-weight="normal" fill="#1a1a1a" stroke="#1a1a1a" stroke-width="0.3">Bay11-7082</text>
<text x="274.38" y="948.30" font-size="10" text-anchor="middle" font-weight="normal" fill="#1a1a1a" stroke="#1a1a1a" stroke-width="0.3">CA074Me</text>
<text x="336.00" y="948.30" font-size="10" text-anchor="middle" font-weight="normal" fill="#1a1a1a" stroke="#1a1a1a" stroke-width="0.3">Ac-YVAD-CHO</text>
<line x1="428.30" y1="57.00" x2="428.30" y2="130.40" stroke="#000" stroke-width="1.3"/>
<line x1="427.80" y1="129.90" x2="511.00" y2="129.90" stroke="#000" stroke-width="1.3"/>
<line x1="425.70" y1="57.50" x2="428.30" y2="57.50" stroke="#000" stroke-width="1.0"/>
<text x="424.10" y="61.58" font-size="10" text-anchor="end" font-weight="normal" fill="#1a1a1a" stroke="#1a1a1a" stroke-width="0.3">750</text>
<line x1="425.70" y1="81.20" x2="428.30" y2="81.20" stroke="#000" stroke-width="1.0"/>
<text x="424.10" y="85.28" font-size="10" text-anchor="end" font-weight="normal" fill="#1a1a1a" stroke="#1a1a1a" stroke-width="0.3">500</text>
<line x1="425.70" y1="105.50" x2="428.30" y2="105.50" stroke="#000" stroke-width="1.0"/>
<text x="424.10" y="109.58" font-size="10" text-anchor="end" font-weight="normal" fill="#1a1a1a" stroke="#1a1a1a" stroke-width="0.3">250</text>
<line x1="425.70" y1="129.90" x2="428.30" y2="129.90" stroke="#000" stroke-width="1.0"/>
<text x="424.10" y="133.98" font-size="10" text-anchor="end" font-weight="normal" fill="#1a1a1a" stroke="#1a1a1a" stroke-width="0.3">0</text>
<text x="405.00" y="91.00" font-size="10" text-anchor="middle" font-weight="normal" fill="#333" stroke="#333" stroke-width="0.2" transform="rotate(-90 405.00 91.00)">IL-1β (pg/ml)</text>
<rect x="434.30" y="93.20" width="9.70" height="36.70" fill="#000"/>
<rect x="455.10" y="120.80" width="9.70" height="9.10" fill="#000"/>
<line x1="459.95" y1="119.60" x2="459.95" y2="121.30" stroke="#000" stroke-width="1.3"/>
<rect x="476.00" y="122.10" width="9.50" height="7.80" fill="#000"/>
<rect x="496.70" y="105.80" width="9.60" height="24.10" fill="#000"/>
<line x1="501.50" y1="102.30" x2="501.50" y2="106.30" stroke="#000" stroke-width="1.3"/>
<line x1="448.82" y1="129.90" x2="448.82" y2="131.80" stroke="#000" stroke-width="1.0"/>
<line x1="469.35" y1="129.90" x2="469.35" y2="131.80" stroke="#000" stroke-width="1.0"/>
<line x1="489.88" y1="129.90" x2="489.88" y2="131.80" stroke="#000" stroke-width="1.0"/>
<line x1="510.40" y1="129.90" x2="510.40" y2="131.80" stroke="#000" stroke-width="1.0"/>
<text x="472.30" y="45.80" font-size="10" text-anchor="middle" font-weight="normal" fill="#1a1a1a" stroke="#1a1a1a" stroke-width="0.3">ATP</text>
<text x="461.25" y="67.40" font-size="10" text-anchor="middle" font-weight="normal" fill="#000" stroke="#000" stroke-width="0.3" letter-spacing="1.9">***</text>
<text x="482.55" y="67.40" font-size="10" text-anchor="middle" font-weight="normal" fill="#000" stroke="#000" stroke-width="0.3" letter-spacing="1.9">***</text>
<text x="502.65" y="67.40" font-size="10" text-anchor="middle" font-weight="normal" fill="#000" stroke="#000" stroke-width="0.3" letter-spacing="1.9">*</text>
<text x="465.10" y="150.50" font-size="10" text-anchor="middle" font-weight="normal" fill="#1a1a1a" stroke="#1a1a1a" stroke-width="0.3" transform="rotate(-90 465.10 150.50)">PPADS</text>
<text x="485.10" y="150.50" font-size="10" text-anchor="middle" font-weight="normal" fill="#1a1a1a" stroke="#1a1a1a" stroke-width="0.3" transform="rotate(-90 485.10 150.50)">CA074</text>
<text x="505.40" y="150.50" font-size="10" text-anchor="middle" font-weight="normal" fill="#1a1a1a" stroke="#1a1a1a" stroke-width="0.3" transform="rotate(-90 505.40 150.50)">YVAD</text>
<text transform="translate(441.75 150.50) rotate(-90) scale(1.4 1)" font-size="13" font-weight="bold" text-anchor="middle" fill="#000">-</text>
<line x1="432.10" y1="205.00" x2="432.10" y2="278.80" stroke="#000" stroke-width="1.3"/>
<line x1="431.60" y1="278.30" x2="514.40" y2="278.30" stroke="#000" stroke-width="1.3"/>
<line x1="429.50" y1="205.50" x2="432.10" y2="205.50" stroke="#000" stroke-width="1.0"/>
<text x="426.10" y="209.58" font-size="10" text-anchor="end" font-weight="normal" fill="#1a1a1a" stroke="#1a1a1a" stroke-width="0.3">1,500</text>
<line x1="429.50" y1="230.00" x2="432.10" y2="230.00" stroke="#000" stroke-width="1.0"/>
<text x="426.10" y="234.08" font-size="10" text-anchor="end" font-weight="normal" fill="#1a1a1a" stroke="#1a1a1a" stroke-width="0.3">1,000</text>
<line x1="429.50" y1="254.20" x2="432.10" y2="254.20" stroke="#000" stroke-width="1.0"/>
<text x="426.10" y="258.28" font-size="10" text-anchor="end" font-weight="normal" fill="#1a1a1a" stroke="#1a1a1a" stroke-width="0.3">500</text>
<line x1="429.50" y1="278.30" x2="432.10" y2="278.30" stroke="#000" stroke-width="1.0"/>
<text x="426.10" y="282.38" font-size="10" text-anchor="end" font-weight="normal" fill="#1a1a1a" stroke="#1a1a1a" stroke-width="0.3">0</text>
<text x="397.00" y="239.10" font-size="10" text-anchor="middle" font-weight="normal" fill="#333" stroke="#333" stroke-width="0.2" transform="rotate(-90 397.00 239.10)">IL-1β (pg/ml)</text>
<rect x="438.30" y="230.80" width="9.20" height="47.50" fill="#000"/>
<line x1="442.90" y1="228.90" x2="442.90" y2="231.30" stroke="#000" stroke-width="1.3"/>
<rect x="458.80" y="232.50" width="9.20" height="45.80" fill="#000"/>
<line x1="463.40" y1="230.60" x2="463.40" y2="233.00" stroke="#000" stroke-width="1.3"/>
<rect x="479.40" y="264.20" width="9.00" height="14.10" fill="#000"/>
<line x1="483.90" y1="261.80" x2="483.90" y2="264.70" stroke="#000" stroke-width="1.3"/>
<rect x="499.80" y="246.70" width="9.40" height="31.60" fill="#000"/>
<line x1="504.50" y1="244.00" x2="504.50" y2="247.20" stroke="#000" stroke-width="1.3"/>
<line x1="452.52" y1="278.30" x2="452.52" y2="280.20" stroke="#000" stroke-width="1.0"/>
<line x1="472.95" y1="278.30" x2="472.95" y2="280.20" stroke="#000" stroke-width="1.0"/>
<line x1="493.38" y1="278.30" x2="493.38" y2="280.20" stroke="#000" stroke-width="1.0"/>
<line x1="513.80" y1="278.30" x2="513.80" y2="280.20" stroke="#000" stroke-width="1.0"/>
<text x="474.20" y="193.70" font-size="10" text-anchor="middle" font-weight="normal" fill="#1a1a1a" stroke="#1a1a1a" stroke-width="0.3">Silica</text>
<text x="485.25" y="216.00" font-size="10" text-anchor="middle" font-weight="normal" fill="#000" stroke="#000" stroke-width="0.3" letter-spacing="1.9">***</text>
<text x="505.75" y="216.00" font-size="10" text-anchor="middle" font-weight="normal" fill="#000" stroke="#000" stroke-width="0.3" letter-spacing="1.9">**</text>
<text x="465.90" y="298.90" font-size="10" text-anchor="middle" font-weight="normal" fill="#1a1a1a" stroke="#1a1a1a" stroke-width="0.3" transform="rotate(-90 465.90 298.90)">PPADS</text>
<text x="486.40" y="298.90" font-size="10" text-anchor="middle" font-weight="normal" fill="#1a1a1a" stroke="#1a1a1a" stroke-width="0.3" transform="rotate(-90 486.40 298.90)">CA074</text>
<text x="506.00" y="298.90" font-size="10" text-anchor="middle" font-weight="normal" fill="#1a1a1a" stroke="#1a1a1a" stroke-width="0.3" transform="rotate(-90 506.00 298.90)">YVAD</text>
<text transform="translate(441.65 298.90) rotate(-90) scale(1.4 1)" font-size="13" font-weight="bold" text-anchor="middle" fill="#000">-</text>
<line x1="431.40" y1="357.50" x2="431.40" y2="431.40" stroke="#000" stroke-width="1.3"/>
<line x1="430.90" y1="430.90" x2="513.50" y2="430.90" stroke="#000" stroke-width="1.3"/>
<line x1="428.80" y1="358.00" x2="431.40" y2="358.00" stroke="#000" stroke-width="1.0"/>
<text x="425.80" y="362.08" font-size="10" text-anchor="end" font-weight="normal" fill="#1a1a1a" stroke="#1a1a1a" stroke-width="0.3">1,500</text>
<line x1="428.80" y1="382.30" x2="431.40" y2="382.30" stroke="#000" stroke-width="1.0"/>
<text x="425.80" y="386.38" font-size="10" text-anchor="end" font-weight="normal" fill="#1a1a1a" stroke="#1a1a1a" stroke-width="0.3">1,000</text>
<line x1="428.80" y1="406.70" x2="431.40" y2="406.70" stroke="#000" stroke-width="1.0"/>
<text x="425.80" y="410.78" font-size="10" text-anchor="end" font-weight="normal" fill="#1a1a1a" stroke="#1a1a1a" stroke-width="0.3">500</text>
<line x1="428.80" y1="430.90" x2="431.40" y2="430.90" stroke="#000" stroke-width="1.0"/>
<text x="425.80" y="434.98" font-size="10" text-anchor="end" font-weight="normal" fill="#1a1a1a" stroke="#1a1a1a" stroke-width="0.3">0</text>
<text x="397.00" y="391.50" font-size="10" text-anchor="middle" font-weight="normal" fill="#333" stroke="#333" stroke-width="0.2" transform="rotate(-90 397.00 391.50)">IL-1β (pg/ml)</text>
<rect x="437.10" y="383.30" width="9.70" height="47.60" fill="#000"/>
<line x1="441.95" y1="380.30" x2="441.95" y2="383.80" stroke="#000" stroke-width="1.3"/>
<rect x="458.10" y="377.10" width="9.40" height="53.80" fill="#000"/>
<line x1="462.80" y1="372.30" x2="462.80" y2="377.60" stroke="#000" stroke-width="1.3"/>
<rect x="478.30" y="423.40" width="9.90" height="7.50" fill="#000"/>
<rect x="498.50" y="409.70" width="9.90" height="21.20" fill="#000"/>
<line x1="503.45" y1="408.40" x2="503.45" y2="410.20" stroke="#000" stroke-width="1.3"/>
<line x1="451.77" y1="430.90" x2="451.77" y2="432.80" stroke="#000" stroke-width="1.0"/>
<line x1="472.15" y1="430.90" x2="472.15" y2="432.80" stroke="#000" stroke-width="1.0"/>
<line x1="492.52" y1="430.90" x2="492.52" y2="432.80" stroke="#000" stroke-width="1.0"/>
<line x1="512.90" y1="430.90" x2="512.90" y2="432.80" stroke="#000" stroke-width="1.0"/>
<text x="473.10" y="346.10" font-size="10" text-anchor="middle" font-weight="normal" fill="#1a1a1a" stroke="#1a1a1a" stroke-width="0.3">MSU</text>
<text x="484.55" y="368.50" font-size="10" text-anchor="middle" font-weight="normal" fill="#000" stroke="#000" stroke-width="0.3" letter-spacing="1.9">***</text>
<text x="505.45" y="368.50" font-size="10" text-anchor="middle" font-weight="normal" fill="#000" stroke="#000" stroke-width="0.3" letter-spacing="1.9">**</text>
<text x="465.40" y="451.10" font-size="10" text-anchor="middle" font-weight="normal" fill="#1a1a1a" stroke="#1a1a1a" stroke-width="0.3" transform="rotate(-90 465.40 451.10)">PPADS</text>
<text x="485.50" y="451.10" font-size="10" text-anchor="middle" font-weight="normal" fill="#1a1a1a" stroke="#1a1a1a" stroke-width="0.3" transform="rotate(-90 485.50 451.10)">CA074</text>
<text x="505.90" y="451.10" font-size="10" text-anchor="middle" font-weight="normal" fill="#1a1a1a" stroke="#1a1a1a" stroke-width="0.3" transform="rotate(-90 505.90 451.10)">YVAD</text>
<text transform="translate(441.65 451.50) rotate(-90) scale(1.4 1)" font-size="13" font-weight="bold" text-anchor="middle" fill="#000">-</text>
<line x1="429.70" y1="520.80" x2="429.70" y2="594.50" stroke="#000" stroke-width="1.3"/>
<line x1="429.20" y1="594.00" x2="513.80" y2="594.00" stroke="#000" stroke-width="1.3"/>
<line x1="427.10" y1="521.30" x2="429.70" y2="521.30" stroke="#000" stroke-width="1.0"/>
<text x="425.70" y="525.38" font-size="10" text-anchor="end" font-weight="normal" fill="#1a1a1a" stroke="#1a1a1a" stroke-width="0.3">1,500</text>
<line x1="427.10" y1="545.50" x2="429.70" y2="545.50" stroke="#000" stroke-width="1.0"/>
<text x="425.70" y="549.58" font-size="10" text-anchor="end" font-weight="normal" fill="#1a1a1a" stroke="#1a1a1a" stroke-width="0.3">1,000</text>
<line x1="427.10" y1="569.70" x2="429.70" y2="569.70" stroke="#000" stroke-width="1.0"/>
<text x="425.70" y="573.78" font-size="10" text-anchor="end" font-weight="normal" fill="#1a1a1a" stroke="#1a1a1a" stroke-width="0.3">500</text>
<line x1="427.10" y1="594.00" x2="429.70" y2="594.00" stroke="#000" stroke-width="1.0"/>
<text x="425.70" y="598.08" font-size="10" text-anchor="end" font-weight="normal" fill="#1a1a1a" stroke="#1a1a1a" stroke-width="0.3">0</text>
<text x="398.50" y="554.70" font-size="10" text-anchor="middle" font-weight="normal" fill="#333" stroke="#333" stroke-width="0.2" transform="rotate(-90 398.50 554.70)">IL-1β (pg/ml)</text>
<rect x="436.00" y="548.50" width="9.50" height="45.50" fill="#000"/>
<line x1="440.75" y1="546.30" x2="440.75" y2="549.00" stroke="#000" stroke-width="1.3"/>
<rect x="456.30" y="549.00" width="9.90" height="45.00" fill="#000"/>
<line x1="461.25" y1="548.00" x2="461.25" y2="549.50" stroke="#000" stroke-width="1.3"/>
<rect x="477.50" y="586.90" width="9.50" height="7.10" fill="#000"/>
<rect x="497.80" y="568.50" width="9.90" height="25.50" fill="#000"/>
<line x1="450.57" y1="594.00" x2="450.57" y2="595.90" stroke="#000" stroke-width="1.0"/>
<line x1="471.45" y1="594.00" x2="471.45" y2="595.90" stroke="#000" stroke-width="1.0"/>
<line x1="492.32" y1="594.00" x2="492.32" y2="595.90" stroke="#000" stroke-width="1.0"/>
<line x1="513.20" y1="594.00" x2="513.20" y2="595.90" stroke="#000" stroke-width="1.0"/>
<text x="482.75" y="531.60" font-size="10" text-anchor="middle" font-weight="normal" fill="#000" stroke="#000" stroke-width="0.3" letter-spacing="1.9">***</text>
<text x="504.35" y="531.60" font-size="10" text-anchor="middle" font-weight="normal" fill="#000" stroke="#000" stroke-width="0.3" letter-spacing="1.9">***</text>
<text x="465.10" y="613.10" font-size="10" text-anchor="middle" font-weight="normal" fill="#1a1a1a" stroke="#1a1a1a" stroke-width="0.3" transform="rotate(-90 465.10 613.10)">PPADS</text>
<text x="486.60" y="613.10" font-size="10" text-anchor="middle" font-weight="normal" fill="#1a1a1a" stroke="#1a1a1a" stroke-width="0.3" transform="rotate(-90 486.60 613.10)">CA074</text>
<text x="507.60" y="613.10" font-size="10" text-anchor="middle" font-weight="normal" fill="#1a1a1a" stroke="#1a1a1a" stroke-width="0.3" transform="rotate(-90 507.60 613.10)">YVAD</text>
<text transform="translate(445.25 612.70) rotate(-90) scale(1.4 1)" font-size="13" font-weight="bold" text-anchor="middle" fill="#000">-</text>
</svg>
</body></html>
